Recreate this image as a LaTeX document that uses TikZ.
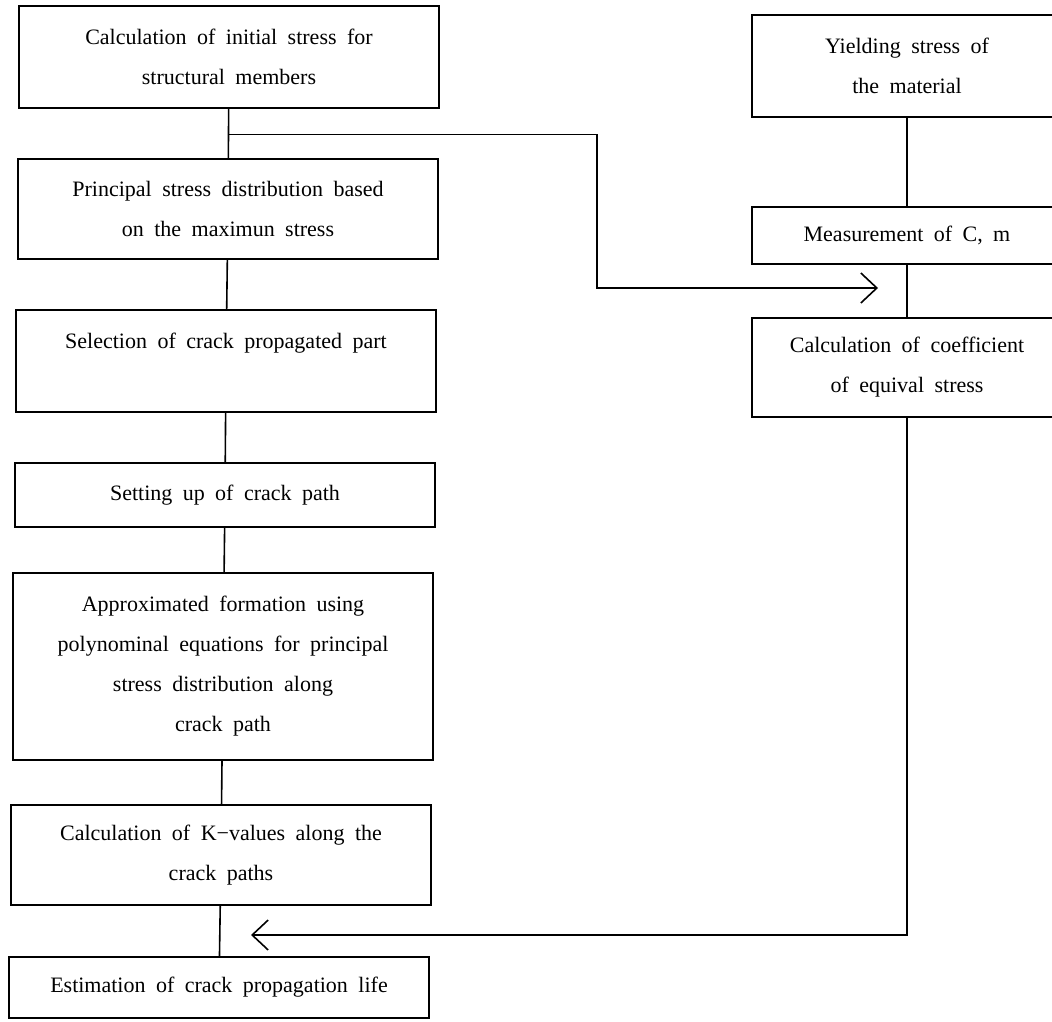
\documentclass[tikz,border=0pt]{standalone}
\usepackage{fontspec}
\setmainfont{Liberation Serif}[WordSpace=1.9]
\usetikzlibrary{arrows.meta,calc}
\tikzset{
  box/.style={draw, line width=0.8pt, align=center, inner sep=0pt,
    minimum width=210pt, font=\fontsize{11pt}{20pt}\selectfont},
  sidebox/.style={box, minimum width=155pt},
  link/.style={line width=0.8pt},
  barb/.style={link, -{Straight Barb[length=8pt,width=15pt,line width=0.8pt]}}
}

\begin{document}
\begin{tikzpicture}[x=0.5pt, y=-0.5pt]
	    \useasboundingbox (0,0) rectangle (1052,1021);
	    \clip (0,0) rectangle (1052,1021);
	    % left column
	    \node[box, minimum height=51pt] (init) at (229,57) {Calculation of initial stress for\\structural members};
	    \node[box, minimum height=50pt] (princ) at (228,209) {Principal stress distribution based\\on the maximun stress};
	    \node[box, minimum height=51pt] (select) at (226,361) {Selection of crack propagated part\\~};
	    \node[box, minimum height=32pt] (path) at (225,495) {Setting up of crack path};
	    \node[box, minimum height=93.5pt] (approx) at (223,666.5) {Approximated formation using\\polynominal equations for principal\\stress distribution along\\crack path};
	    \node[box, minimum height=50pt] (kval) at (221,855) {Calculation of K−values along the\\crack paths};
	    \node[box, minimum height=30.5pt] (life) at (219,987.5) {Estimation of crack propagation life};
	    % right column
	    \node[sidebox, minimum height=51pt] (yield) at (907,66) {Yielding stress of\\the material};
	    \node[sidebox, minimum height=28.5pt] (cm) at (907,235.5) {Measurement of C, m};
	    \node[sidebox, minimum height=49.5pt] (equiv) at (907,367.5) {Calculation of coefficient\\of equival stress};
	    % connectors
	    \draw[link] (init) -- (princ) -- (select) -- (path) -- (approx) -- (kval) -- (life);
	    \draw[link] (yield) -- (cm) -- (equiv);
	    \coordinate (fork) at ($(init.south)!0.52!(princ.north)$);
	    \coordinate (bend) at (597,288);
	    \coordinate (cmtip) at (878,288);
	    \coordinate (ktip) at (251,935);
	    \draw[barb] (fork) -| (bend) -- (cmtip);
	    \draw[barb] (equiv.south) |- (ktip);
        \end{tikzpicture}
\end{document}
